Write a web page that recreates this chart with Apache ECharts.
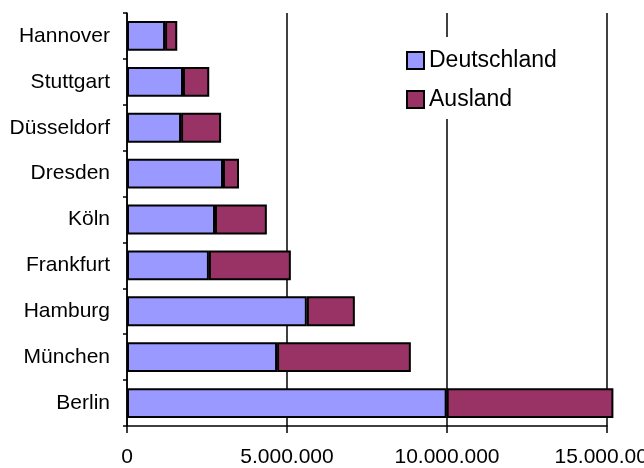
<!DOCTYPE html>
<html>
<head>
<meta charset="utf-8">
<script src="https://cdn.jsdelivr.net/npm/echarts@6/dist/echarts.min.js"></script>
<style>
  html, body { margin: 0; padding: 0; background: #fff; }
  #chart { width: 644px; height: 468px; }
</style>
</head>
<body>
<div id="chart"></div>
<script>
// Städte von unten nach oben
var staedte = ['Berlin', 'München', 'Hamburg', 'Frankfurt', 'Köln', 'Dresden', 'Düsseldorf', 'Stuttgart', 'Hannover'];
var deutschland = [9990000, 4690000, 5620000, 2560000, 2750000, 3000000, 1690000, 1750000, 1190000];
var ausland = [5210000, 4180000, 1500000, 2560000, 1620000, 500000, 1250000, 820000, 380000];
var xTicks = [0, 5000000, 10000000, 15000000];

var font = "'Liberation Sans', Arial, sans-serif";

function punkte(v) {
    return String(v).replace(/\B(?=(\d{3})+(?!\d))/g, '.');
}

var myChart = echarts.init(document.getElementById('chart'));
var option = {
    animation: false,
    backgroundColor: '#fff',
    textStyle: { fontFamily: font, color: '#000' },
    grid: { left: 127, right: 37, top: 13, bottom: 42, containLabel: false, outerBoundsMode: 'none' },
    legend: {
        orient: 'vertical',
        left: 402,
        top: 37,
        padding: [12, 8, 8, 4],
        backgroundColor: '#fff',
        itemWidth: 17,
        itemHeight: 17,
        itemGap: 16,
        icon: 'rect',
        textStyle: { fontFamily: font, fontSize: 23, color: '#000' },
        data: ['Deutschland', 'Ausland']
    },
    xAxis: {
        type: 'value',
        min: xTicks[0],
        max: xTicks[xTicks.length - 1],
        interval: 5000000,
        axisLine: { show: true, lineStyle: { color: '#000', width: 1.5 } },
        axisTick: { show: true, length: 7, lineStyle: { color: '#000', width: 1.5 } },
        axisLabel: {
            fontFamily: font, fontSize: 21, color: '#000', margin: 21,
            formatter: function (v) { return punkte(v); }
        },
        splitLine: { show: true, lineStyle: { color: '#000', width: 1.5 } }
    },
    yAxis: {
        type: 'category',
        data: staedte,
        axisLine: { show: true, lineStyle: { color: '#000', width: 1.5 } },
        axisTick: { show: true, length: 4, lineStyle: { color: '#000', width: 1.5 } },
        axisLabel: { fontFamily: font, fontSize: 21, color: '#000', margin: 17 }
    },
    series: [
        {
            name: 'Deutschland',
            type: 'bar',
            stack: 'gesamt',
            barCategoryGap: '35%',
            clip: false,
            itemStyle: { color: '#9999FF', borderColor: '#000', borderWidth: 2 },
            data: deutschland
        },
        {
            name: 'Ausland',
            type: 'bar',
            stack: 'gesamt',
            barCategoryGap: '35%',
            clip: false,
            itemStyle: { color: '#993366', borderColor: '#000', borderWidth: 2 },
            data: ausland
        }
    ]
};
myChart.setOption(option);
</script>
</body>
</html>
